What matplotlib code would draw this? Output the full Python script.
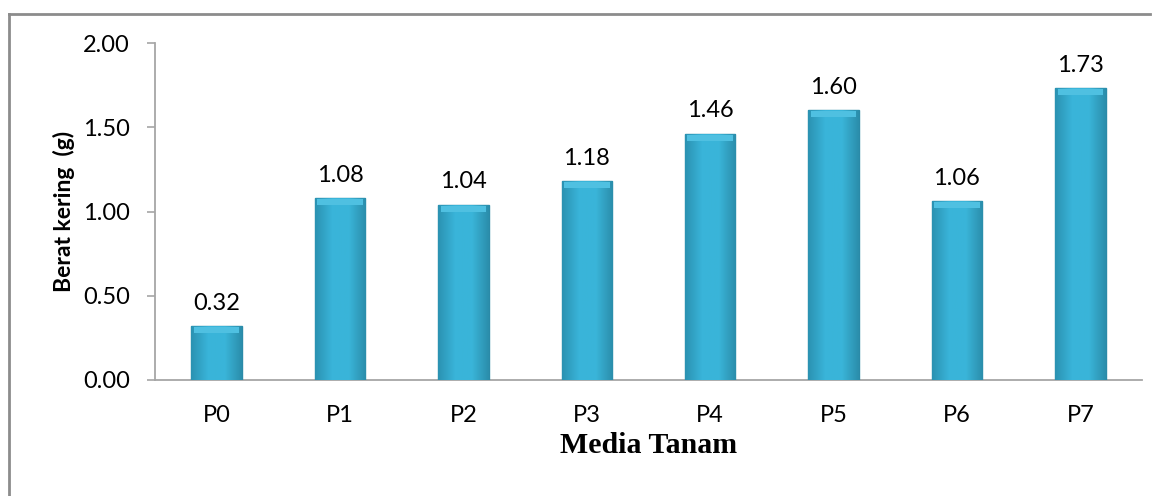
import matplotlib

matplotlib.use("Agg")

import matplotlib.pyplot as plt
import numpy as np
from matplotlib.colors import LinearSegmentedColormap
from matplotlib.lines import Line2D


categories = ["P0", "P1", "P2", "P3", "P4", "P5", "P6", "P7"]
values = [0.32, 1.08, 1.04, 1.18, 1.46, 1.60, 1.06, 1.73]
y_ticks = [0.0, 0.5, 1.0, 1.5, 2.0]

W, H = 1160, 496
fig = plt.figure(figsize=(W / 100, H / 100), dpi=100)
ax = fig.add_axes([155 / W, 1 - 380 / H, (1142 - 155) / W, (380 - 43) / H])

# outer frame (top and left edges visible)
fig.add_artist(Line2D([9 / W, 9 / W], [0, 1 - 14 / H], color="#8c8c8c", lw=2, transform=fig.transFigure))
fig.add_artist(Line2D([9 / W, 1150 / W], [1 - 14 / H, 1 - 14 / H], color="#8c8c8c", lw=2, transform=fig.transFigure))

x = np.arange(len(categories))
width = 0.41
bars = ax.bar(x, values, width=width, color="#37afd3", edgecolor="#2a8aa8", linewidth=1.0, zorder=3)

# horizontal shading inside each bar
cmap = LinearSegmentedColormap.from_list("bar", ["#2b92b2", "#39b4d9", "#3ab5d9", "#2b8eac"])
grad = np.linspace(0, 1, 64).reshape(1, -1)
for bar in bars:
    x0, y0 = bar.get_x(), bar.get_y()
    w, h = bar.get_width(), bar.get_height()
    im = ax.imshow(grad, cmap=cmap, aspect="auto", extent=(x0, x0 + w, y0, y0 + h), zorder=3.5)
    im.set_clip_path(bar)
    ax.bar(bar.get_x() + w / 2, 0.035, width=w * 0.9, bottom=h - 0.04, color="#4fc0e1", lw=0, zorder=4)

ax.set_xlim(-0.5, len(categories) - 0.5)
ax.set_ylim(0, 2.0)
ax.set_yticks(y_ticks)
ax.set_yticklabels([f"{v:.2f}" for v in y_ticks])
ax.set_xticks(x)
ax.set_xticklabels(categories)

for sp in ["top", "right"]:
    ax.spines[sp].set_visible(False)
for sp in ["left", "bottom"]:
    ax.spines[sp].set_color("#a6a6a6")
    ax.spines[sp].set_linewidth(1.3)

ax.tick_params(axis="y", length=6, width=1.2, color="#a6a6a6", pad=12, labelsize=17)
ax.tick_params(axis="x", length=0, pad=18, labelsize=17)
for lab in ax.get_xticklabels() + ax.get_yticklabels():
    lab.set_family("Lato")

for xi, v in zip(x, values):
    ax.annotate(f"{v:.2f}", (xi, v), xytext=(0, 9), textcoords="offset points",
                ha="center", va="bottom", fontsize=17, family="Lato")

ax.set_xlabel("Media Tanam", family="Liberation Serif", fontweight="bold", fontsize=21.5, labelpad=4)
ax.set_ylabel("Berat kering  (g)", family="Lato", fontweight="bold", fontsize=16.5, labelpad=6)

fig.savefig("out.png", dpi=100, facecolor="white")
